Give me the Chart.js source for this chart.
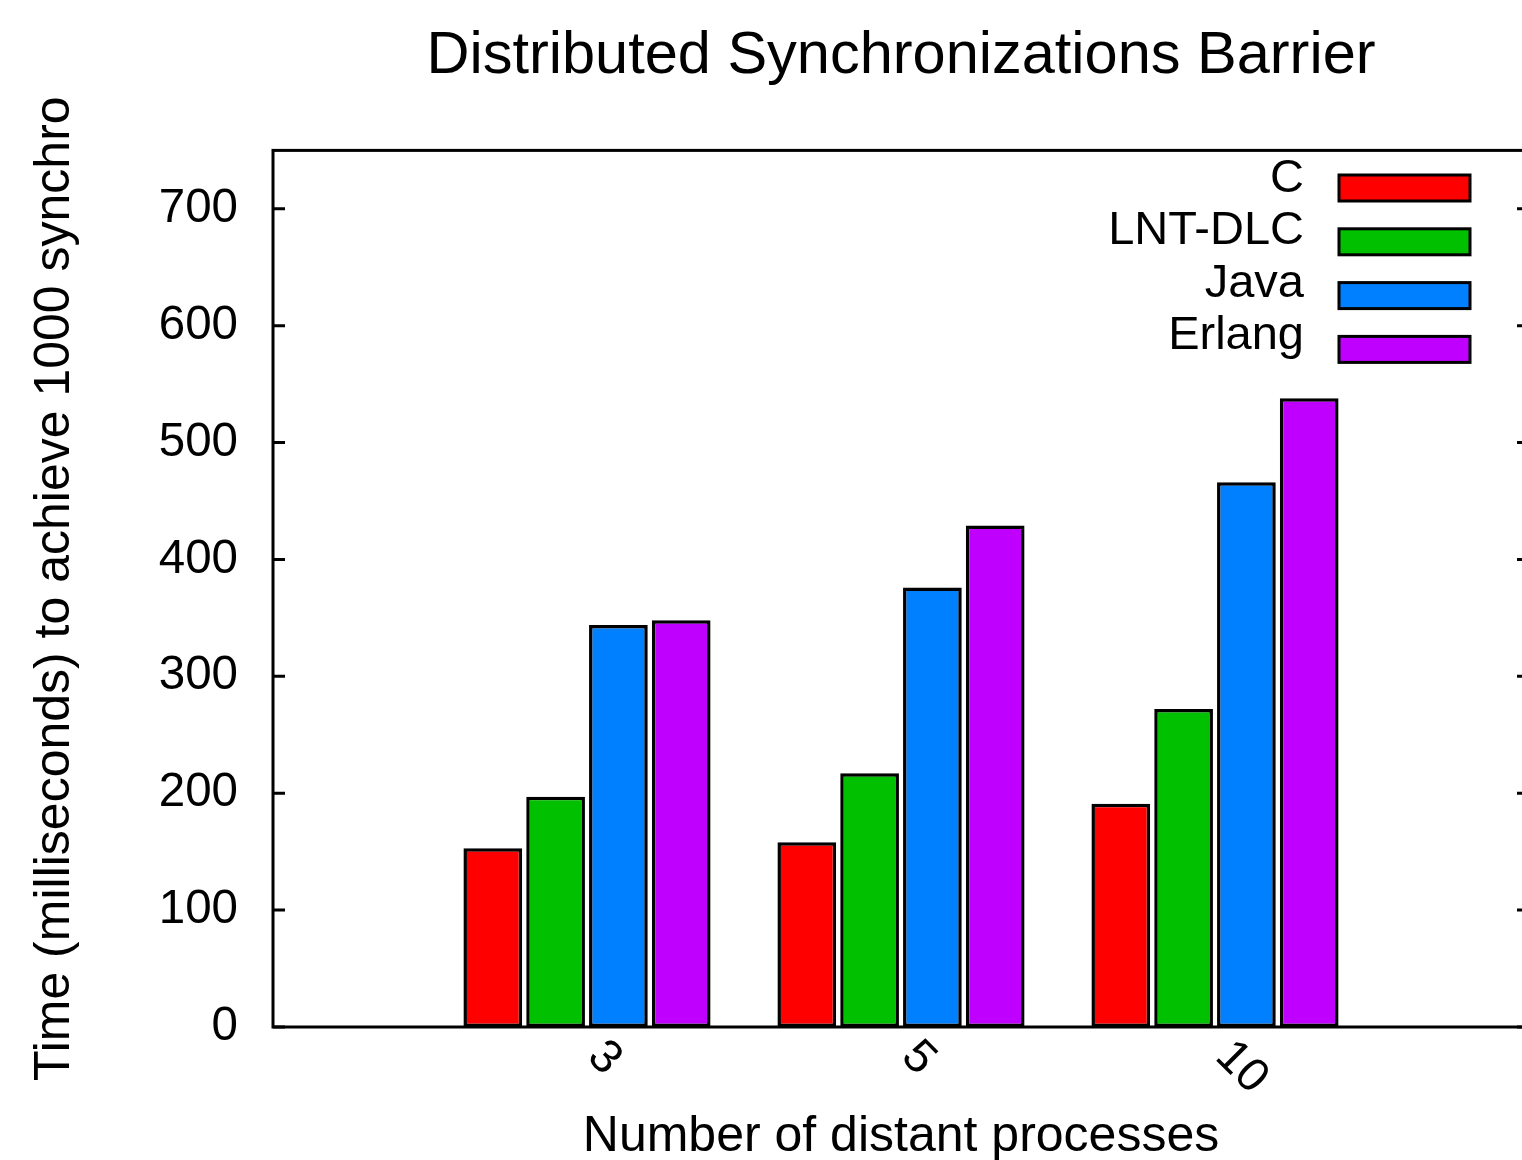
<!DOCTYPE html>
<html>
<head>
<meta charset="utf-8">
<title>Distributed Synchronizations Barrier</title>
<script src="https://cdn.jsdelivr.net/npm/chart.js@4.4.1/dist/chart.umd.min.js"></script>
<style>
  html, body { margin: 0; padding: 0; background: #fff; overflow: hidden; }
  #wrap { width: 1540px; height: 1160px; }
</style>
</head>
<body>
<div id="wrap"><canvas id="chart" width="1540" height="1160"></canvas></div>
<script>
// Data
const categories = ['3', '5', '10'];
const seriesNames = ['C', 'LNT-DLC', 'Java', 'Erlang'];
const cValues = [153, 158, 191];
const lntValues = [197, 217, 272];
const javaValues = [344, 376, 466];
const erlangValues = [348, 429, 538];
const yTicks = [0, 100, 200, 300, 400, 500, 600, 700];

const colors = ['#ff0000', '#00c000', '#0080ff', '#c000ff'];
const FONT = '"Liberation Sans", Arial, sans-serif';

// gnuplot leaves one empty slot either side of the groups
const labels = [''].concat(categories, ['']);
const pad = arr => [null].concat(arr, [null]);

const datasets = [cValues, lntValues, javaValues, erlangValues].map((vals, i) => ({
  label: seriesNames[i],
  data: pad(vals),
  backgroundColor: colors[i],
  borderColor: '#000',
  borderWidth: 3.5,
  borderSkipped: false,
  categoryPercentage: 0.8,
  barPercentage: 0.935
}));

// frame, inward ticks, rotated x labels and the key
const gnuplotBits = {
  id: 'gnuplotBits',
  afterDraw(chart) {
    const ctx = chart.ctx;
    const area = chart.chartArea;
    const x = chart.scales.x;
    const y = chart.scales.y;
    ctx.save();
    ctx.strokeStyle = '#000';
    ctx.lineWidth = 3;
    ctx.strokeRect(area.left, area.top, area.right - area.left, area.bottom - area.top);

    // y ticks, inside on both sides
    ctx.beginPath();
    yTicks.forEach(v => {
      const py = y.getPixelForValue(v);
      ctx.moveTo(area.left, py);
      ctx.lineTo(area.left + 12, py);
      ctx.moveTo(area.right, py);
      ctx.lineTo(area.right - 12, py);
    });
    ctx.stroke();

    // x labels rotated clockwise
    ctx.fillStyle = '#000';
    ctx.font = '47px ' + FONT;
    ctx.textAlign = 'left';
    ctx.textBaseline = 'middle';
    categories.forEach((c, i) => {
      const px = x.getPixelForValue(i + 1);
      ctx.save();
      ctx.translate(px + 8, area.bottom + 22);
      ctx.rotate(Math.PI / 4);
      ctx.fillText(c, 0, 0);
      ctx.restore();
    });

    // key: text right-aligned, then a box
    ctx.textAlign = 'right';
    chart.data.datasets.forEach((ds, i) => {
      const by = 175 + i * 53.8;
      ctx.fillStyle = '#000';
      ctx.fillText(ds.label, 1304, 179 + i * 52.5);
      ctx.fillStyle = ds.backgroundColor;
      ctx.fillRect(1339, by, 131, 26);
      ctx.strokeRect(1339, by, 131, 26);
    });
    ctx.restore();
  }
};

new Chart(document.getElementById('chart'), {
  type: 'bar',
  data: { labels: labels, datasets: datasets },
  options: {
    responsive: false,
    animation: false,
    layout: { padding: { left: 0, right: 11, top: 0, bottom: 0 } },
    plugins: {
      legend: { display: false },
      tooltip: { enabled: false },
      title: {
        display: true,
        text: 'Distributed Synchronizations Barrier',
        fullSize: false,
        color: '#000',
        font: { family: FONT, size: 59.5, weight: 'normal' },
        padding: { top: 21, bottom: 58 }
      }
    },
    scales: {
      x: {
        type: 'category',
        offset: false,
        grid: { display: false, drawTicks: false },
        border: { display: false },
        ticks: { display: false },
        title: {
          display: true,
          text: 'Number of distant processes',
          color: '#000',
          font: { family: FONT, size: 50, lineHeight: 1 },
          padding: { top: 0, bottom: -2 }
        },
        afterFit(s) { s.height = 133; }
      },
      y: {
        min: 0,
        max: 750,
        grid: { display: false, drawTicks: false },
        border: { display: false },
        afterBuildTicks(s) { s.ticks = yTicks.map(v => ({ value: v })); },
        ticks: {
          color: '#000',
          padding: 35,
          font: { family: FONT, size: 47.5 }
        },
        title: {
          display: true,
          text: 'Time (milliseconds) to achieve 1000 synchro',
          color: '#000',
          font: { family: FONT, size: 50, lineHeight: 1 },
          padding: { top: 30, bottom: 0 }
        },
        afterFit(s) { s.width = 273; }
      }
    }
  },
  plugins: [gnuplotBits]
});
</script>
</body>
</html>
